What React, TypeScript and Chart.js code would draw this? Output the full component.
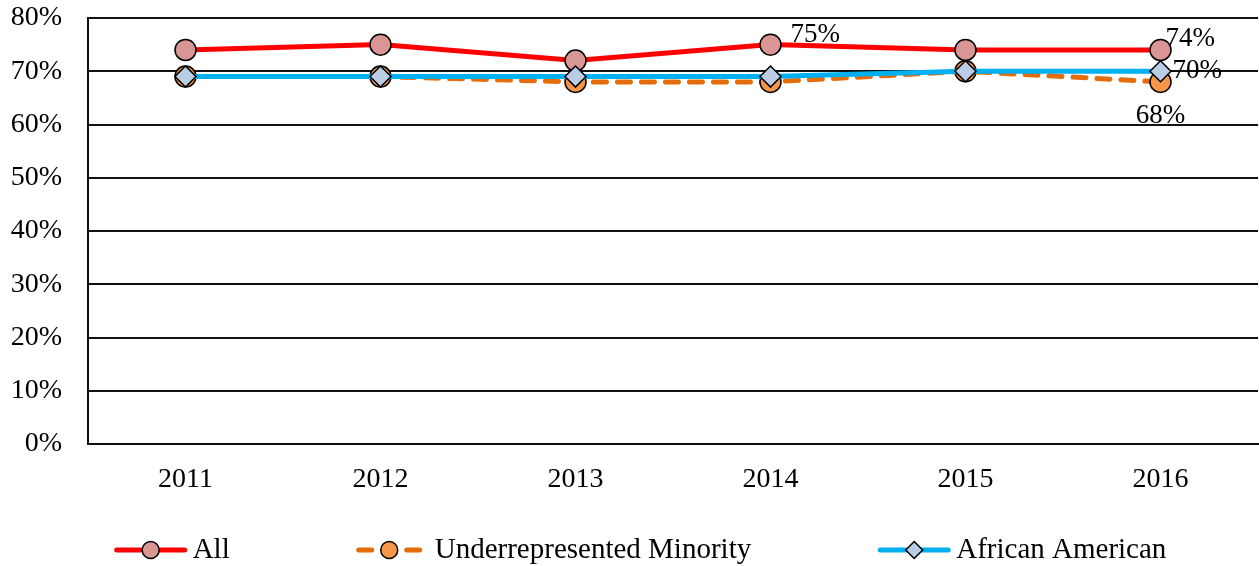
import React, { useEffect, useRef } from 'react';
import { Chart, registerables } from 'chart.js';

Chart.register(...registerables);

const years = ['2011', '2012', '2013', '2014', '2015', '2016'];
const allValues = [74, 75, 72, 75, 74, 74];
const urmValues = [69, 69, 68, 68, 70, 68];
const aaValues = [69, 69, 69, 69, 70, 70];
const seriesNames = ['All', 'Underrepresented Minority', 'African American'];
const yMin = 0;
const yMax = 80;
const yStep = 10;

// which points carry a value label, and where the label sits relative to its point
const valueLabels = [
  { series: 0, index: 3, dx: 20, dy: -3, align: 'left' },
  { series: 0, index: 5, dx: 5, dy: -4, align: 'left' },
  { series: 2, index: 5, dx: 12, dy: 7, align: 'left' },
  { series: 1, index: 5, dx: 0, dy: 41, align: 'center' },
];

const FONT = '"Liberation Serif", "Times New Roman", serif';
const FONT_SIZE = 27;
const TICK_FONT_SIZE = 28;
const LEGEND_FONT_SIZE = 29;

const valueLabelPlugin = {
  id: 'valueLabels',
  afterDatasetsDraw(chart: any) {
    const ctx = chart.ctx;
    ctx.save();
    ctx.font = `${FONT_SIZE}px ${FONT}`;
    ctx.fillStyle = '#000';
    ctx.textBaseline = 'alphabetic';
    valueLabels.forEach((l) => {
      const meta = chart.getDatasetMeta(l.series);
      const pt = meta.data[l.index];
      const v = chart.data.datasets[l.series].data[l.index];
      ctx.textAlign = l.align;
      ctx.fillText(`${v}%`, pt.x + l.dx, pt.y + l.dy);
    });
    ctx.restore();
  },
};

function drawMarker(ctx: any, style: string, x: number, y: number, r: number, fill: string) {
  ctx.beginPath();
  if (style === 'rectRot') {
    ctx.moveTo(x, y - r);
    ctx.lineTo(x + r, y);
    ctx.lineTo(x, y + r);
    ctx.lineTo(x - r, y);
    ctx.closePath();
  } else {
    ctx.arc(x, y, r, 0, Math.PI * 2);
  }
  ctx.fillStyle = fill;
  ctx.fill();
  ctx.lineWidth = 1.5;
  ctx.strokeStyle = '#000';
  ctx.setLineDash([]);
  ctx.stroke();
}

const legendPlugin = {
  id: 'customLegend',
  afterDraw(chart: any) {
    const ctx = chart.ctx;
    ctx.save();
    ctx.font = `${LEGEND_FONT_SIZE}px ${FONT}`;
    const lineLen = 72;
    const textGap = 6;
    const itemGap = 127;
    const dsets = chart.data.datasets;
    const widths = dsets.map((ds: any) => lineLen + textGap + ctx.measureText(ds.label).width);
    const total = widths.reduce((a: number, b: number) => a + b, 0) + itemGap * (dsets.length - 1);
    let x = (chart.width - total) / 2 + 11;
    const yMid = 550;
    const yBase = 558;
    dsets.forEach((ds: any, i: number) => {
      ctx.lineWidth = 5;
      ctx.strokeStyle = ds.borderColor;
      ctx.lineCap = 'round';
      ctx.setLineDash([]);
      if (ds.borderDash && ds.borderDash.length) {
        ctx.beginPath();
        ctx.moveTo(x + 2, yMid);
        ctx.lineTo(x + 15, yMid);
        ctx.moveTo(x + lineLen - 22, yMid);
        ctx.lineTo(x + lineLen - 9, yMid);
        ctx.stroke();
        drawMarker(ctx, ds.pointStyle, x + (lineLen - 7) / 2, yMid, 8.5, ds.pointBackgroundColor);
      } else {
        ctx.beginPath();
        ctx.moveTo(x + 2, yMid);
        ctx.lineTo(x + lineLen - 2, yMid);
        ctx.stroke();
        drawMarker(ctx, ds.pointStyle, x + lineLen / 2, yMid, 8.5, ds.pointBackgroundColor);
      }
      ctx.fillStyle = '#000';
      ctx.textAlign = 'left';
      ctx.textBaseline = 'alphabetic';
      ctx.fillText(ds.label, x + lineLen + textGap, yBase);
      x += widths[i] + itemGap;
    });
    ctx.restore();
  },
};

function clearScalePadding(scale: any) {
  scale.paddingTop = 0;
  scale.paddingBottom = 0;
  scale.paddingLeft = 0;
  scale.paddingRight = 0;
}

export default function App() {
  const canvasRef = useRef<HTMLCanvasElement | null>(null);

  useEffect(() => {
    if (!canvasRef.current) return;
    const chart = new Chart(canvasRef.current, {
      type: 'line',
      data: {
        labels: years,
        datasets: [
          {
            label: seriesNames[0],
            data: allValues,
            borderColor: '#FF0000',
            borderWidth: 5,
            pointStyle: 'circle',
            pointRadius: 10.5,
            pointBackgroundColor: '#D99694',
            pointBorderColor: '#000',
            pointBorderWidth: 1.5,
            tension: 0,
            order: 2,
          },
          {
            label: seriesNames[1],
            data: urmValues,
            borderColor: '#E46C0A',
            borderWidth: 5,
            borderDash: [13, 11],
            borderCapStyle: 'round',
            pointStyle: 'circle',
            pointRadius: 10.5,
            pointBackgroundColor: '#F79646',
            pointBorderColor: '#000',
            pointBorderWidth: 1.5,
            tension: 0,
            order: 1,
          },
          {
            label: seriesNames[2],
            data: aaValues,
            borderColor: '#00B0F0',
            borderWidth: 5,
            pointStyle: 'rectRot',
            pointRadius: 10.5,
            pointBackgroundColor: '#B9CDE5',
            pointBorderColor: '#000',
            pointBorderWidth: 1.5,
            tension: 0,
            order: 0,
          },
        ],
      },
      options: {
        animation: false,
        responsive: true,
        maintainAspectRatio: false,
        events: [],
        layout: { autoPadding: false, padding: { top: 18, right: 1, left: 0, bottom: 0 } },
        plugins: {
          legend: { display: false },
          tooltip: { enabled: false },
          title: { display: false },
        },
        scales: {
          x: {
            offset: true,
            grid: { display: false, drawTicks: false },
            border: { display: true, color: '#111', width: 2 },
            ticks: {
              color: '#000',
              font: { family: FONT, size: TICK_FONT_SIZE },
              padding: 19,
              maxRotation: 0,
            },
            afterFit(scale: any) {
              scale.height = 122;
              clearScalePadding(scale);
            },
          },
          y: {
            min: yMin,
            max: yMax,
            grid: { color: '#111', lineWidth: 2, drawTicks: false },
            border: { display: true, color: '#111', width: 2 },
            ticks: {
              stepSize: yStep,
              color: '#000',
              font: { family: FONT, size: TICK_FONT_SIZE },
              padding: 26,
              callback: (v: any) => `${v}%`,
            },
            afterFit(scale: any) {
              scale.width = 88;
              clearScalePadding(scale);
            },
          },
        },
      },
      plugins: [valueLabelPlugin, legendPlugin],
    } as any);
    return () => chart.destroy();
  }, []);

  return (
    <div style={{ position: 'absolute', left: 0, top: 0, width: 1259, height: 566, background: '#fff' }}>
      <canvas ref={canvasRef} />
    </div>
  );
}
